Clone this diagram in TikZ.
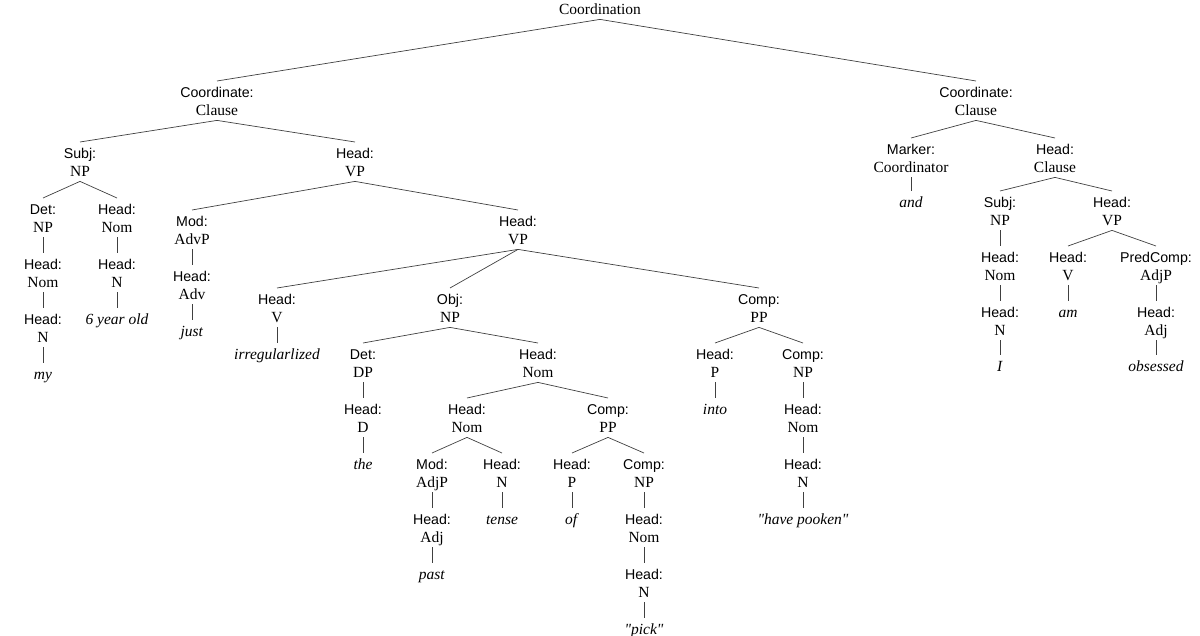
\documentclass[tikz,border=0pt]{standalone}
\usepackage{fontspec}
\setmainfont{Liberation Serif}[Ligatures=TeXOff]
\setsansfont{Liberation Sans}
\usepackage{tikz}

\newcommand{\lab}{\sffamily\fontsize{14.2}{18}\selectfont}
\newcommand{\fc}[2]{{\lab #1\rule{0pt}{16pt}}\\#2\rule[-5pt]{0pt}{5pt}}
\newcommand{\leaf}[1]{\textit{#1}\rule{0pt}{16pt}}

\begin{document}
\begin{tikzpicture}[x=1pt,y=-1pt]
\tikzset{cat/.style = {anchor=north, inner sep=0pt, align=center, font=\fontsize{15.5}{18}\selectfont},
  edge/.style = {draw=black!75, line width=0.7pt}}
\useasboundingbox (0,0) rectangle (1200,636);

\node[cat] (root) at (600,-2) {Coordination\rule{0pt}{16pt}\\[-18pt]\rule[-5pt]{0pt}{5pt}};
\node[cat] (cl1) at (217,81) {\fc{Coordinate:}{Clause}};
\node[cat] (cl2) at (976,81) {\fc{Coordinate:}{Clause}};

% first clause
\node[cat] (subj1) at (80,142) {\fc{Subj:}{NP}};
\node[cat] (vp1) at (355,142) {\fc{Head:}{VP}};
\node[cat] (det1) at (43,198) {\fc{Det:}{NP}};
\node[cat] (nom1) at (117,198) {\fc{Head:}{Nom}};
\node[cat] (nom2) at (43,253) {\fc{Head:}{Nom}};
\node[cat] (n1) at (117,253) {\fc{Head:}{N}};
\node[cat] (n2) at (43,308) {\fc{Head:}{N}};
\node[cat] (w6) at (117,308) {\leaf{6 year old}};
\node[cat] (wmy) at (43,363) {\leaf{my}};
\node[cat] (mod1) at (192,210) {\fc{Mod:}{AdvP}};
\node[cat] (vp2) at (518,210) {\fc{Head:}{VP}};
\node[cat] (adv1) at (192,265) {\fc{Head:}{Adv}};
\node[cat] (wjust) at (192,320) {\leaf{just}};
\node[cat] (v1) at (277,288) {\fc{Head:}{V}};
\node[cat] (obj1) at (450,288) {\fc{Obj:}{NP}};
\node[cat] (pp1) at (759,288) {\fc{Comp:}{PP}};
\node[cat] (wirr) at (277,343) {\leaf{irregularlized}};
\node[cat] (det2) at (363,343) {\fc{Det:}{DP}};
\node[cat] (nom3) at (538,343) {\fc{Head:}{Nom}};
\node[cat] (d1) at (363,398) {\fc{Head:}{D}};
\node[cat] (wthe) at (363,453) {\leaf{the}};
\node[cat] (nom4) at (467,398) {\fc{Head:}{Nom}};
\node[cat] (pp2) at (608,398) {\fc{Comp:}{PP}};
\node[cat] (mod2) at (432,453) {\fc{Mod:}{AdjP}};
\node[cat] (n3) at (502,453) {\fc{Head:}{N}};
\node[cat] (p2) at (572,453) {\fc{Head:}{P}};
\node[cat] (np2) at (644,453) {\fc{Comp:}{NP}};
\node[cat] (adj1) at (432,508) {\fc{Head:}{Adj}};
\node[cat] (wtense) at (502,508) {\leaf{tense}};
\node[cat] (wof) at (572,508) {\leaf{of}};
\node[cat] (nom5) at (644,508) {\fc{Head:}{Nom}};
\node[cat] (wpast) at (432,563) {\leaf{past}};
\node[cat] (n4) at (644,563) {\fc{Head:}{N}};
\node[cat] (wpick) at (644,618) {\leaf{"pick"}};
\node[cat] (p1) at (715,343) {\fc{Head:}{P}};
\node[cat] (np1) at (803,343) {\fc{Comp:}{NP}};
\node[cat] (winto) at (715,398) {\leaf{into}};
\node[cat] (nom6) at (803,398) {\fc{Head:}{Nom}};
\node[cat] (n5) at (803,453) {\fc{Head:}{N}};
\node[cat] (wpooken) at (803,508) {\leaf{"have pooken"}};

% second clause
\node[cat] (mark) at (911,138) {\fc{Marker:}{Coordinator}};
\node[cat] (cl3) at (1055,138) {\fc{Head:}{Clause}};
\node[cat] (wand) at (911,191) {\leaf{and}};
\node[cat] (subj2) at (1000,191) {\fc{Subj:}{NP}};
\node[cat] (vp3) at (1112,191) {\fc{Head:}{VP}};
\node[cat] (nom7) at (1000,246) {\fc{Head:}{Nom}};
\node[cat] (v2) at (1068,246) {\fc{Head:}{V}};
\node[cat] (adjp) at (1156,246) {\fc{PredComp:}{AdjP}};
\node[cat] (n6) at (1000,301) {\fc{Head:}{N}};
\node[cat] (wam) at (1068,301) {\leaf{am}};
\node[cat] (adj2) at (1156,301) {\fc{Head:}{Adj}};
\node[cat] (wI) at (1000,355) {\leaf{I}};
\node[cat] (wobs) at (1156,355) {\leaf{obsessed}};

\draw[edge] (root.south) -- (cl1.north);
\draw[edge] (root.south) -- (cl2.north);
\draw[edge] (cl1.south) -- (subj1.north);
\draw[edge] (cl1.south) -- (vp1.north);
\draw[edge] (subj1.south) -- (det1.north);
\draw[edge] (subj1.south) -- (nom1.north);
\draw[edge] (det1.south) -- (nom2.north);
\draw[edge] (nom2.south) -- (n2.north);
\draw[edge] (n2.south) -- (wmy.north);
\draw[edge] (nom1.south) -- (n1.north);
\draw[edge] (n1.south) -- (w6.north);
\draw[edge] (vp1.south) -- (mod1.north);
\draw[edge] (vp1.south) -- (vp2.north);
\draw[edge] (mod1.south) -- (adv1.north);
\draw[edge] (adv1.south) -- (wjust.north);
\draw[edge] (vp2.south) -- (v1.north);
\draw[edge] (vp2.south) -- (obj1.north);
\draw[edge] (vp2.south) -- (pp1.north);
\draw[edge] (v1.south) -- (wirr.north);
\draw[edge] (obj1.south) -- (det2.north);
\draw[edge] (obj1.south) -- (nom3.north);
\draw[edge] (det2.south) -- (d1.north);
\draw[edge] (d1.south) -- (wthe.north);
\draw[edge] (nom3.south) -- (nom4.north);
\draw[edge] (nom3.south) -- (pp2.north);
\draw[edge] (nom4.south) -- (mod2.north);
\draw[edge] (nom4.south) -- (n3.north);
\draw[edge] (mod2.south) -- (adj1.north);
\draw[edge] (adj1.south) -- (wpast.north);
\draw[edge] (n3.south) -- (wtense.north);
\draw[edge] (pp2.south) -- (p2.north);
\draw[edge] (pp2.south) -- (np2.north);
\draw[edge] (p2.south) -- (wof.north);
\draw[edge] (np2.south) -- (nom5.north);
\draw[edge] (nom5.south) -- (n4.north);
\draw[edge] (n4.south) -- (wpick.north);
\draw[edge] (pp1.south) -- (p1.north);
\draw[edge] (pp1.south) -- (np1.north);
\draw[edge] (p1.south) -- (winto.north);
\draw[edge] (np1.south) -- (nom6.north);
\draw[edge] (nom6.south) -- (n5.north);
\draw[edge] (n5.south) -- (wpooken.north);
\draw[edge] (cl2.south) -- (mark.north);
\draw[edge] (cl2.south) -- (cl3.north);
\draw[edge] (mark.south) -- (wand.north);
\draw[edge] (cl3.south) -- (subj2.north);
\draw[edge] (cl3.south) -- (vp3.north);
\draw[edge] (subj2.south) -- (nom7.north);
\draw[edge] (nom7.south) -- (n6.north);
\draw[edge] (n6.south) -- (wI.north);
\draw[edge] (vp3.south) -- (v2.north);
\draw[edge] (vp3.south) -- (adjp.north);
\draw[edge] (v2.south) -- (wam.north);
\draw[edge] (adjp.south) -- (adj2.north);
\draw[edge] (adj2.south) -- (wobs.north);
\end{tikzpicture}
\end{document}
